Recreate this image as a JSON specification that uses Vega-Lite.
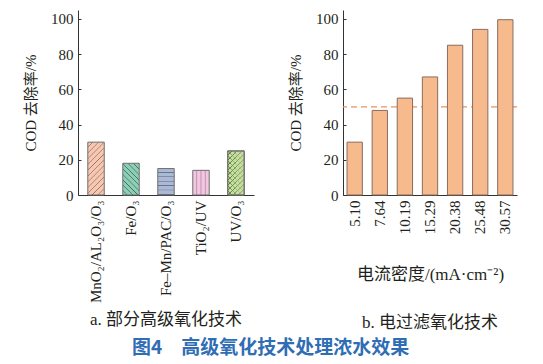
{
  "$schema": "https://vega.github.io/schema/vega-lite/v6.json",
  "padding": {"left": 23, "top": 10, "right": 5, "bottom": 5},
  "background": "white",
  "config": {
    "view": {"stroke": null},
    "font": "Liberation Serif, Noto Sans CJK SC",
    "axis": {
      "grid": false,
      "domainColor": "#333333",
      "domainWidth": 1,
      "tickColor": "#333333",
      "labelColor": "#231f20",
      "labelFont": "Liberation Serif",
      "labelFontSize": 15,
      "titleFont": "Liberation Serif, Noto Sans CJK SC",
      "titleFontSize": 15,
      "titleFontWeight": "normal",
      "titleColor": "#231f20"
    }
  },
  "title": {
    "text": "图4　高级氧化技术处理浓水效果",
    "orient": "bottom",
    "anchor": "middle",
    "font": "Noto Sans CJK SC",
    "fontWeight": "bold",
    "fontSize": 19,
    "color": "#2f6db5",
    "offset": 8
  },
  "spacing": 34,
  "hconcat": [
    {
      "width": 176,
      "height": 185,
      "title": {"text": "a. 部分高级氧化技术", "orient": "bottom", "font": "Liberation Serif, Noto Sans CJK SC", "fontSize": 17, "fontWeight": "normal", "color": "#231f20", "offset": 9},
      "data": {"values": [
        {"tech": "MnO₂/AL₂O₃/O₃", "removal": 30},
        {"tech": "Fe/O₃", "removal": 18},
        {"tech": "Fe–Mn/PAC/O₃", "removal": 15},
        {"tech": "TiO₂/UV", "removal": 14},
        {"tech": "UV/O₃", "removal": 25}
      ]},
      "encoding": {
        "x": {"field": "tech", "type": "nominal", "sort": null, "scale": {"paddingInner": 0.53, "paddingOuter": 0.28},
              "axis": {"title": null, "labelAngle": -90, "ticks": false, "labelPadding": 5}},
        "y": {"field": "removal", "type": "quantitative", "scale": {"domain": [0, 105], "nice": false},
              "axis": {"values": [0, 20, 40, 60, 80, 100], "title": "COD 去除率/%", "tickSize": -3, "labelPadding": 8, "titlePadding": 12}}
      },
      "layer": [
        {"transform": [{"filter": "datum.tech === 'MnO₂/AL₂O₃/O₃'"}],
         "mark": {"type": "bar", "stroke": "#6e6e6e", "strokeWidth": 1, "fill": {"gradient": "linear", "x1": 0, "y1": 0, "x2": 0.374, "y2": 1.196, "stops": [
           {"offset": 0, "color": "#f6c8b4"}, {"offset": 0.06, "color": "#f6c8b4"}, {"offset": 0.072, "color": "#a06e5c"},
           {"offset": 0.0833, "color": "#f6c8b4"}, {"offset": 0.1433, "color": "#f6c8b4"}, {"offset": 0.1553, "color": "#a06e5c"},
           {"offset": 0.1667, "color": "#f6c8b4"}, {"offset": 0.2267, "color": "#f6c8b4"}, {"offset": 0.2387, "color": "#a06e5c"},
           {"offset": 0.25, "color": "#f6c8b4"}, {"offset": 0.31, "color": "#f6c8b4"}, {"offset": 0.322, "color": "#a06e5c"},
           {"offset": 0.3333, "color": "#f6c8b4"}, {"offset": 0.3933, "color": "#f6c8b4"}, {"offset": 0.4053, "color": "#a06e5c"},
           {"offset": 0.4167, "color": "#f6c8b4"}, {"offset": 0.4767, "color": "#f6c8b4"}, {"offset": 0.4887, "color": "#a06e5c"},
           {"offset": 0.5, "color": "#f6c8b4"}, {"offset": 0.56, "color": "#f6c8b4"}, {"offset": 0.572, "color": "#a06e5c"},
           {"offset": 0.5833, "color": "#f6c8b4"}, {"offset": 0.6433, "color": "#f6c8b4"}, {"offset": 0.6553, "color": "#a06e5c"},
           {"offset": 0.6667, "color": "#f6c8b4"}, {"offset": 0.7267, "color": "#f6c8b4"}, {"offset": 0.7387, "color": "#a06e5c"},
           {"offset": 0.75, "color": "#f6c8b4"}, {"offset": 0.81, "color": "#f6c8b4"}, {"offset": 0.822, "color": "#a06e5c"},
           {"offset": 0.8333, "color": "#f6c8b4"}, {"offset": 0.8933, "color": "#f6c8b4"}, {"offset": 0.9053, "color": "#a06e5c"},
           {"offset": 0.9167, "color": "#f6c8b4"}, {"offset": 0.9767, "color": "#f6c8b4"}, {"offset": 0.9887, "color": "#a06e5c"},
           {"offset": 1, "color": "#f6c8b4"}]}}},
        {"transform": [{"filter": "datum.tech === 'Fe/O₃'"}],
         "mark": {"type": "bar", "stroke": "#6e6e6e", "strokeWidth": 1, "fill": {"gradient": "linear", "x1": 0, "y1": 1, "x2": 0.623, "y2": -0.196, "stops": [
           {"offset": 0, "color": "#8ccfb6"}, {"offset": 0.08, "color": "#8ccfb6"}, {"offset": 0.096, "color": "#3a5e52"},
           {"offset": 0.1111, "color": "#8ccfb6"}, {"offset": 0.1911, "color": "#8ccfb6"}, {"offset": 0.2071, "color": "#3a5e52"},
           {"offset": 0.2222, "color": "#8ccfb6"}, {"offset": 0.3022, "color": "#8ccfb6"}, {"offset": 0.3182, "color": "#3a5e52"},
           {"offset": 0.3333, "color": "#8ccfb6"}, {"offset": 0.4133, "color": "#8ccfb6"}, {"offset": 0.4293, "color": "#3a5e52"},
           {"offset": 0.4444, "color": "#8ccfb6"}, {"offset": 0.5244, "color": "#8ccfb6"}, {"offset": 0.5404, "color": "#3a5e52"},
           {"offset": 0.5556, "color": "#8ccfb6"}, {"offset": 0.6356, "color": "#8ccfb6"}, {"offset": 0.6516, "color": "#3a5e52"},
           {"offset": 0.6667, "color": "#8ccfb6"}, {"offset": 0.7467, "color": "#8ccfb6"}, {"offset": 0.7627, "color": "#3a5e52"},
           {"offset": 0.7778, "color": "#8ccfb6"}, {"offset": 0.8578, "color": "#8ccfb6"}, {"offset": 0.8738, "color": "#3a5e52"},
           {"offset": 0.8889, "color": "#8ccfb6"}, {"offset": 0.9689, "color": "#8ccfb6"}, {"offset": 0.9849, "color": "#3a5e52"},
           {"offset": 1, "color": "#8ccfb6"}]}}},
        {"transform": [{"filter": "datum.tech === 'Fe–Mn/PAC/O₃'"}],
         "mark": {"type": "bar", "stroke": "#6e6e6e", "strokeWidth": 1, "fill": {"gradient": "linear", "x1": 0, "y1": 0, "x2": 0, "y2": 1, "stops": [
           {"offset": 0, "color": "#abb9d4"}, {"offset": 0.12, "color": "#abb9d4"}, {"offset": 0.145, "color": "#5a6682"},
           {"offset": 0.1667, "color": "#abb9d4"}, {"offset": 0.2867, "color": "#abb9d4"}, {"offset": 0.3117, "color": "#5a6682"},
           {"offset": 0.3333, "color": "#abb9d4"}, {"offset": 0.4533, "color": "#abb9d4"}, {"offset": 0.4783, "color": "#5a6682"},
           {"offset": 0.5, "color": "#abb9d4"}, {"offset": 0.62, "color": "#abb9d4"}, {"offset": 0.645, "color": "#5a6682"},
           {"offset": 0.6667, "color": "#abb9d4"}, {"offset": 0.7867, "color": "#abb9d4"}, {"offset": 0.8117, "color": "#5a6682"},
           {"offset": 0.8333, "color": "#abb9d4"}, {"offset": 0.9533, "color": "#abb9d4"}, {"offset": 0.9783, "color": "#5a6682"},
           {"offset": 1, "color": "#abb9d4"}]}}},
        {"transform": [{"filter": "datum.tech === 'TiO₂/UV'"}],
         "mark": {"type": "bar", "stroke": "#6e6e6e", "strokeWidth": 1, "fill": {"gradient": "linear", "x1": 0, "y1": 0, "x2": 1, "y2": 0, "stops": [
           {"offset": 0, "color": "#f3c6e2"}, {"offset": 0.21, "color": "#f3c6e2"}, {"offset": 0.25, "color": "#86607a"}, {"offset": 0.29, "color": "#f3c6e2"},
           {"offset": 0.46, "color": "#f3c6e2"}, {"offset": 0.5, "color": "#86607a"}, {"offset": 0.54, "color": "#f3c6e2"},
           {"offset": 0.71, "color": "#f3c6e2"}, {"offset": 0.75, "color": "#86607a"}, {"offset": 0.79, "color": "#f3c6e2"},
           {"offset": 1, "color": "#f3c6e2"}]}}},
        {"transform": [{"filter": "datum.tech === 'UV/O₃'"}],
         "mark": {"type": "bar", "stroke": "#6e6e6e", "strokeWidth": 1, "fill": {"gradient": "linear", "x1": 0, "y1": 0, "x2": 0.438, "y2": 1.204, "stops": [
           {"offset": 0, "color": "#c7e0a0"}, {"offset": 0.06, "color": "#c7e0a0"}, {"offset": 0.072, "color": "#4e6e36"},
           {"offset": 0.0833, "color": "#c7e0a0"}, {"offset": 0.1433, "color": "#c7e0a0"}, {"offset": 0.1553, "color": "#4e6e36"},
           {"offset": 0.1667, "color": "#c7e0a0"}, {"offset": 0.2267, "color": "#c7e0a0"}, {"offset": 0.2387, "color": "#4e6e36"},
           {"offset": 0.25, "color": "#c7e0a0"}, {"offset": 0.31, "color": "#c7e0a0"}, {"offset": 0.322, "color": "#4e6e36"},
           {"offset": 0.3333, "color": "#c7e0a0"}, {"offset": 0.3933, "color": "#c7e0a0"}, {"offset": 0.4053, "color": "#4e6e36"},
           {"offset": 0.4167, "color": "#c7e0a0"}, {"offset": 0.4767, "color": "#c7e0a0"}, {"offset": 0.4887, "color": "#4e6e36"},
           {"offset": 0.5, "color": "#c7e0a0"}, {"offset": 0.56, "color": "#c7e0a0"}, {"offset": 0.572, "color": "#4e6e36"},
           {"offset": 0.5833, "color": "#c7e0a0"}, {"offset": 0.6433, "color": "#c7e0a0"}, {"offset": 0.6553, "color": "#4e6e36"},
           {"offset": 0.6667, "color": "#c7e0a0"}, {"offset": 0.7267, "color": "#c7e0a0"}, {"offset": 0.7387, "color": "#4e6e36"},
           {"offset": 0.75, "color": "#c7e0a0"}, {"offset": 0.81, "color": "#c7e0a0"}, {"offset": 0.822, "color": "#4e6e36"},
           {"offset": 0.8333, "color": "#c7e0a0"}, {"offset": 0.8933, "color": "#c7e0a0"}, {"offset": 0.9053, "color": "#4e6e36"},
           {"offset": 0.9167, "color": "#c7e0a0"}, {"offset": 0.9767, "color": "#c7e0a0"}, {"offset": 0.9887, "color": "#4e6e36"},
           {"offset": 1, "color": "#c7e0a0"}]}}},
        {"transform": [{"filter": "datum.tech === 'UV/O₃'"}],
         "mark": {"type": "bar", "stroke": "#6e6e6e", "strokeWidth": 1, "fill": {"gradient": "linear", "x1": 0, "y1": 1, "x2": 0.438, "y2": -0.204, "stops": [
           {"offset": 0, "color": "rgba(199,224,160,0)"}, {"offset": 0.06, "color": "rgba(199,224,160,0)"}, {"offset": 0.072, "color": "#4e6e36"},
           {"offset": 0.0833, "color": "rgba(199,224,160,0)"}, {"offset": 0.1433, "color": "rgba(199,224,160,0)"}, {"offset": 0.1553, "color": "#4e6e36"},
           {"offset": 0.1667, "color": "rgba(199,224,160,0)"}, {"offset": 0.2267, "color": "rgba(199,224,160,0)"}, {"offset": 0.2387, "color": "#4e6e36"},
           {"offset": 0.25, "color": "rgba(199,224,160,0)"}, {"offset": 0.31, "color": "rgba(199,224,160,0)"}, {"offset": 0.322, "color": "#4e6e36"},
           {"offset": 0.3333, "color": "rgba(199,224,160,0)"}, {"offset": 0.3933, "color": "rgba(199,224,160,0)"}, {"offset": 0.4053, "color": "#4e6e36"},
           {"offset": 0.4167, "color": "rgba(199,224,160,0)"}, {"offset": 0.4767, "color": "rgba(199,224,160,0)"}, {"offset": 0.4887, "color": "#4e6e36"},
           {"offset": 0.5, "color": "rgba(199,224,160,0)"}, {"offset": 0.56, "color": "rgba(199,224,160,0)"}, {"offset": 0.572, "color": "#4e6e36"},
           {"offset": 0.5833, "color": "rgba(199,224,160,0)"}, {"offset": 0.6433, "color": "rgba(199,224,160,0)"}, {"offset": 0.6553, "color": "#4e6e36"},
           {"offset": 0.6667, "color": "rgba(199,224,160,0)"}, {"offset": 0.7267, "color": "rgba(199,224,160,0)"}, {"offset": 0.7387, "color": "#4e6e36"},
           {"offset": 0.75, "color": "rgba(199,224,160,0)"}, {"offset": 0.81, "color": "rgba(199,224,160,0)"}, {"offset": 0.822, "color": "#4e6e36"},
           {"offset": 0.8333, "color": "rgba(199,224,160,0)"}, {"offset": 0.8933, "color": "rgba(199,224,160,0)"}, {"offset": 0.9053, "color": "#4e6e36"},
           {"offset": 0.9167, "color": "rgba(199,224,160,0)"}, {"offset": 0.9767, "color": "rgba(199,224,160,0)"}, {"offset": 0.9887, "color": "#4e6e36"},
           {"offset": 1, "color": "rgba(199,224,160,0)"}]}}}
      ]
    },
    {
      "width": 174,
      "height": 185,
      "title": {"text": "b. 电过滤氧化技术", "orient": "bottom", "font": "Liberation Serif, Noto Sans CJK SC", "fontSize": 17, "fontWeight": "normal", "color": "#231f20", "offset": 32},
      "layer": [
        {
          "data": {"values": [{"threshold": 50}]},
          "mark": {"type": "rule", "color": "#e8925a", "strokeDash": [6, 4], "strokeWidth": 1.2},
          "encoding": {
            "y": {"field": "threshold", "type": "quantitative", "scale": {"domain": [0, 105], "nice": false},
                  "axis": {"values": [0, 20, 40, 60, 80, 100], "title": "COD 去除率/%", "tickSize": -3, "labelPadding": 8, "titlePadding": 12}}
          }
        },
        {
          "data": {"values": [
            {"density": "5.10", "removal": 30},
            {"density": "7.64", "removal": 48},
            {"density": "10.19", "removal": 55},
            {"density": "15.29", "removal": 67},
            {"density": "20.38", "removal": 85},
            {"density": "25.48", "removal": 94},
            {"density": "30.57", "removal": 99.5}
          ]},
          "mark": {"type": "bar", "fill": "#f7ba8c", "stroke": "#8a6c60", "strokeWidth": 1},
          "encoding": {
            "x": {"field": "density", "type": "nominal", "sort": null, "scale": {"paddingInner": 0.39, "paddingOuter": 0.16},
                  "axis": {"title": "电流密度/(mA·cm⁻²)", "titleFontSize": 17, "titlePadding": 33, "labelAngle": -90, "ticks": false, "labelPadding": 5}},
            "y": {"field": "removal", "type": "quantitative", "scale": {"domain": [0, 105], "nice": false},
                  "axis": {"values": [0, 20, 40, 60, 80, 100], "title": "COD 去除率/%", "tickSize": -3, "labelPadding": 8, "titlePadding": 12}}
          }
        }
      ]
    }
  ]
}
